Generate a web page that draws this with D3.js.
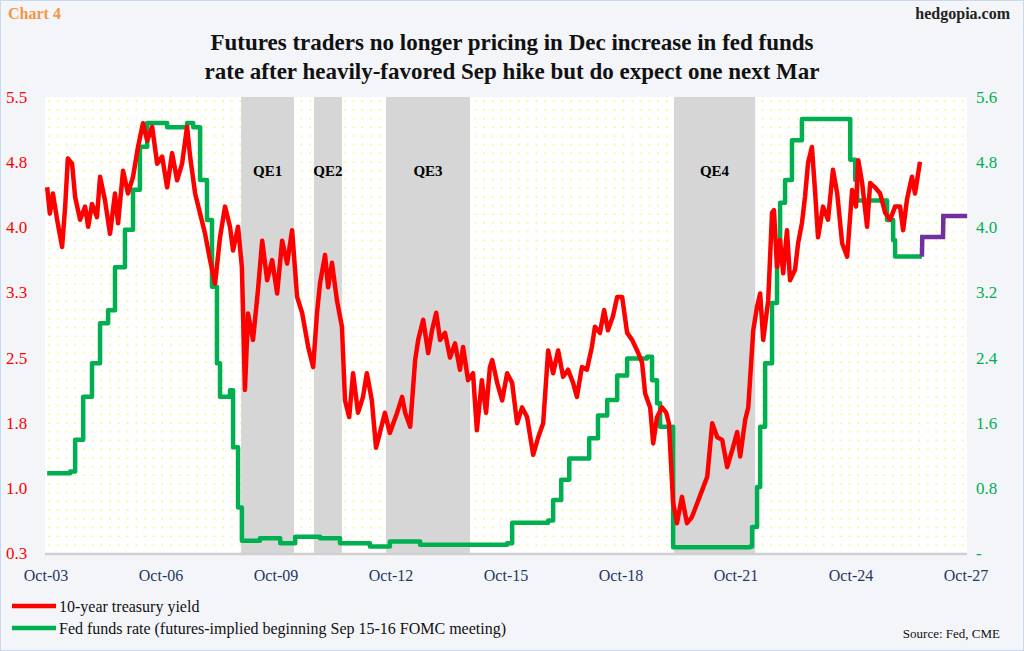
<!DOCTYPE html>
<html><head><meta charset="utf-8">
<script src="https://cdn.jsdelivr.net/npm/d3@7"></script>
<style>body{margin:0;background:#fff}svg{display:block;font-family:"Liberation Serif",serif}</style>
</head><body><div id="chart"></div>
<script>
// 10-year treasury yield, [decimal year, %]
let yield10 = [[2003.78,4.47],[2003.85,4.17],[2003.93,4.40],[2004.04,4.10],[2004.17,3.79],[2004.25,4.25],[2004.32,4.80],[2004.43,4.74],[2004.51,4.36],[2004.64,4.10],[2004.77,4.25],[2004.85,4.02],[2004.95,4.28],[2005.08,4.13],[2005.16,4.59],[2005.29,4.32],[2005.42,3.94],[2005.55,4.40],[2005.63,4.06],[2005.76,4.66],[2005.89,4.40],[2006.02,4.59],[2006.15,4.93],[2006.28,5.20],[2006.39,5.00],[2006.52,5.16],[2006.65,4.74],[2006.78,4.82],[2006.91,4.47],[2007.04,4.86],[2007.17,4.55],[2007.30,4.74],[2007.43,5.16],[2007.51,4.82],[2007.64,4.40],[2007.77,4.17],[2007.90,3.94],[2008.03,3.64],[2008.16,3.37],[2008.29,3.90],[2008.42,4.25],[2008.55,4.02],[2008.63,3.75],[2008.76,4.02],[2008.86,3.56],[2008.94,2.16],[2009.02,3.03],[2009.15,2.73],[2009.28,3.30],[2009.39,3.86],[2009.52,3.41],[2009.65,3.64],[2009.78,3.26],[2009.91,3.86],[2010.04,3.60],[2010.17,3.98],[2010.30,3.22],[2010.43,3.04],[2010.59,2.65],[2010.72,2.42],[2010.82,3.04],[2010.90,3.38],[2011.03,3.70],[2011.11,3.33],[2011.21,3.61],[2011.34,3.18],[2011.47,2.88],[2011.55,2.04],[2011.66,1.85],[2011.76,2.35],[2011.89,1.90],[2012.02,2.08],[2012.12,2.35],[2012.25,2.04],[2012.36,1.50],[2012.46,1.67],[2012.59,1.90],[2012.72,1.67],[2012.91,1.90],[2013.04,2.08],[2013.12,1.90],[2013.25,1.74],[2013.38,2.50],[2013.46,2.73],[2013.59,2.96],[2013.72,2.58],[2013.82,2.84],[2013.93,3.04],[2014.03,2.73],[2014.16,2.81],[2014.29,2.53],[2014.42,2.69],[2014.55,2.39],[2014.63,2.65],[2014.76,2.27],[2014.89,2.35],[2014.99,1.70],[2015.12,2.27],[2015.23,1.90],[2015.33,2.42],[2015.39,2.50],[2015.52,2.24],[2015.65,2.04],[2015.78,2.35],[2015.91,2.24],[2016.04,1.78],[2016.17,1.96],[2016.30,1.85],[2016.46,1.42],[2016.59,1.62],[2016.72,1.78],[2016.85,2.61],[2016.98,2.35],[2017.11,2.61],[2017.24,2.31],[2017.37,2.39],[2017.50,2.24],[2017.60,2.08],[2017.73,2.42],[2017.86,2.39],[2017.99,2.65],[2018.07,2.88],[2018.20,2.81],[2018.31,3.07],[2018.41,2.84],[2018.54,3.00],[2018.65,3.22],[2018.78,3.22],[2018.91,2.81],[2019.04,2.73],[2019.17,2.61],[2019.30,2.47],[2019.38,2.12],[2019.51,1.96],[2019.59,1.55],[2019.69,1.85],[2019.82,1.96],[2019.93,1.90],[2020.00,1.78],[2020.11,0.87],[2020.21,0.64],[2020.34,0.94],[2020.47,0.64],[2020.60,0.71],[2020.74,0.87],[2020.87,1.02],[2021.00,1.17],[2021.13,1.78],[2021.26,1.62],[2021.39,1.59],[2021.52,1.28],[2021.65,1.47],[2021.78,1.68],[2021.86,1.40],[2021.99,1.82],[2022.07,1.96],[2022.20,2.84],[2022.30,3.11],[2022.38,3.26],[2022.46,2.73],[2022.59,3.18],[2022.69,4.18],[2022.74,4.21],[2022.82,3.56],[2022.90,3.87],[2022.98,3.49],[2023.08,3.98],[2023.16,3.41],[2023.29,3.53],[2023.37,3.83],[2023.47,4.06],[2023.55,4.36],[2023.63,4.75],[2023.73,4.93],[2023.81,4.44],[2023.89,3.90],[2024.02,4.25],[2024.15,4.10],[2024.28,4.67],[2024.39,4.40],[2024.52,3.83],[2024.65,3.68],[2024.78,4.44],[2024.88,4.25],[2024.94,4.78],[2025.04,4.52],[2025.17,4.02],[2025.25,4.52],[2025.38,4.47],[2025.51,4.40],[2025.64,4.18],[2025.77,4.10],[2025.90,4.25],[2026.03,4.25],[2026.11,3.98],[2026.21,4.33],[2026.34,4.59],[2026.42,4.40],[2026.55,4.76]];

// fed funds rate, [decimal year, %]
let fedFunds = [[2003.78,0.98],[2004.38,1.00],[2004.51,1.39],[2004.72,1.92],[2004.95,2.33],[2005.16,2.82],[2005.37,2.98],[2005.55,3.51],[2005.81,3.97],[2006.02,4.46],[2006.20,4.99],[2006.39,5.28],[2006.91,5.23],[2007.43,5.28],[2007.59,5.23],[2007.77,4.58],[2007.95,4.09],[2008.08,3.27],[2008.21,2.33],[2008.29,1.92],[2008.55,2.00],[2008.63,1.30],[2008.76,0.56],[2008.86,0.15],[2009.33,0.18],[2009.86,0.12],[2010.25,0.20],[2010.90,0.18],[2011.42,0.12],[2012.20,0.08],[2012.72,0.14],[2013.51,0.10],[2014.55,0.10],[2015.78,0.12],[2015.91,0.37],[2016.85,0.40],[2016.98,0.65],[2017.19,0.90],[2017.40,1.16],[2017.92,1.41],[2018.15,1.69],[2018.39,1.88],[2018.65,2.18],[2018.91,2.39],[2019.43,2.41],[2019.56,2.12],[2019.69,1.84],[2019.77,1.55],[2020.06,1.55],[2020.11,0.07],[2022.12,0.08],[2022.17,0.32],[2022.30,0.81],[2022.38,1.55],[2022.51,2.33],[2022.69,3.07],[2022.82,3.81],[2022.90,4.30],[2023.03,4.58],[2023.21,5.07],[2023.47,5.33],[2024.65,5.33],[2024.73,4.83],[2024.86,4.58],[2024.91,4.33],[2025.59,4.33],[2025.69,4.09],[2025.85,3.84],[2025.90,3.64],[2026.60,3.64]];

// futures-implied path
let implied = [[2026.60,3.64],[2026.61,3.88],[2027.15,3.88],[2027.16,4.14],[2027.78,4.14]];

let qe = [
    {name: 'QE1', start: 2008.84, end: 2010.22},
    {name: 'QE2', start: 2010.74, end: 2011.47},
    {name: 'QE3', start: 2012.62, end: 2014.81},
    {name: 'QE4', start: 2020.13, end: 2022.25}
];

let xTickYears = [2003.75, 2006.75, 2009.75, 2012.75, 2015.75, 2018.75, 2021.75, 2024.75, 2027.75];
let xTickLabels = ['Oct-03', 'Oct-06', 'Oct-09', 'Oct-12', 'Oct-15', 'Oct-18', 'Oct-21', 'Oct-24', 'Oct-27'];
let leftTicks = [0.3, 1.043, 1.786, 2.529, 3.271, 4.014, 4.757, 5.5];
let rightTicks = [0, 0.8, 1.6, 2.4, 3.2, 4.0, 4.8, 5.6];

let W = 1024, H = 651;
let m = {left: 45, right: 57, top: 97, bottom: 98};

let svg = d3.select('#chart').append('svg').attr('width', W).attr('height', H);

let defs = svg.append('defs');
let pat = defs.append('pattern').attr('id', 'dots').attr('patternUnits', 'userSpaceOnUse')
    .attr('width', 8.7).attr('height', 8.7).attr('x', 48).attr('y', 100);
pat.append('rect').attr('width', 8.7).attr('height', 8.7).attr('fill', '#fff');
pat.append('circle').attr('cx', 1.2).attr('cy', 1.2).attr('r', 0.8).attr('fill', '#f4f030');

svg.append('rect').attr('x', 0.5).attr('y', 0.5).attr('width', W - 1).attr('height', H - 1)
    .attr('fill', '#f3f5f8').attr('stroke', '#c8d8ee');

let x = d3.scaleLinear().domain([2003.75, 2027.75]).range([46, 966]);
let yL = d3.scaleLinear().domain([0.3, 5.5]).range([H - m.bottom, m.top]);
let yR = d3.scaleLinear().domain([0, 5.6]).range([H - m.bottom, m.top]);

svg.append('rect').attr('x', m.left).attr('y', m.top)
    .attr('width', W - m.left - m.right).attr('height', H - m.top - m.bottom)
    .attr('fill', 'url(#dots)');

svg.selectAll('.qe').data(qe).join('rect')
    .attr('x', d => x(d.start)).attr('width', d => x(d.end) - x(d.start))
    .attr('y', m.top).attr('height', H - m.top - m.bottom)
    .attr('fill', '#d6d6d6');

svg.selectAll('.qel').data(qe).join('text')
    .attr('x', d => (x(d.start) + x(d.end)) / 2).attr('y', 176)
    .attr('text-anchor', 'middle').attr('font-weight', 'bold').attr('font-size', 15)
    .text(d => d.name);

svg.append('line').attr('x1', m.left).attr('x2', W - m.right)
    .attr('y1', H - m.bottom + 1).attr('y2', H - m.bottom + 1)
    .attr('stroke', '#d0d0d0').attr('stroke-width', 2.5);

let line = (ys, curve) => d3.line().curve(curve).x(d => x(d[0])).y(d => ys(d[1]));

svg.append('path').datum(fedFunds).attr('d', line(yR, d3.curveStepAfter))
    .attr('fill', 'none').attr('stroke', '#00b050').attr('stroke-width', 4.5).attr('stroke-linejoin', 'round');
svg.append('path').datum(implied).attr('d', line(yR, d3.curveLinear))
    .attr('fill', 'none').attr('stroke', '#7030a0').attr('stroke-width', 4.5);
svg.append('path').datum(yield10).attr('d', line(yL, d3.curveLinear))
    .attr('fill', 'none').attr('stroke', '#ff0000').attr('stroke-width', 4.5).attr('stroke-linejoin', 'round');

// axes
svg.append('g').selectAll('text').data(leftTicks).join('text')
    .attr('x', 6).attr('y', d => yL(d) + 6)
    .attr('font-size', 17).attr('fill', '#ff0000')
    .text(d => d3.format('.1f')(d));

svg.append('g').selectAll('text').data(rightTicks).join('text')
    .attr('x', 976).attr('y', d => yR(d) + 6)
    .attr('font-size', 17).attr('fill', '#00b050')
    .text(d => d === 0 ? '-' : d3.format('.1f')(d));

svg.append('g').selectAll('text').data(xTickYears).join('text')
    .attr('x', d => x(d)).attr('y', 581)
    .attr('text-anchor', 'middle').attr('font-size', 16).attr('fill', '#1f3864')
    .text((d, i) => xTickLabels[i]);

// titles
svg.append('text').attr('x', 8).attr('y', 19).attr('font-size', 16).attr('font-weight', 'bold')
    .attr('fill', '#f79646').text('Chart 4');
svg.append('text').attr('x', 1010).attr('y', 19).attr('font-size', 16).attr('font-weight', 'bold')
    .attr('text-anchor', 'end').attr('fill', '#222').text('hedgopia.com');
svg.append('text').attr('x', 512).attr('y', 50).attr('font-size', 23).attr('font-weight', 'bold')
    .attr('text-anchor', 'middle').attr('fill', '#111')
    .text('Futures traders no longer pricing in Dec increase in fed funds');
svg.append('text').attr('x', 512).attr('y', 79).attr('font-size', 23).attr('font-weight', 'bold')
    .attr('text-anchor', 'middle').attr('fill', '#111')
    .text('rate after heavily-favored Sep hike but do expect one next Mar');

// legend
let legend = [['10-year treasury yield', '#ff0000'],
    ['Fed funds rate (futures-implied beginning Sep 15-16 FOMC meeting)', '#00b050']];
let lg = svg.append('g').selectAll('g').data(legend).join('g')
    .attr('transform', (d, i) => `translate(12,${606 + i * 22})`);
lg.append('line').attr('x1', 0).attr('x2', 44).attr('stroke', d => d[1]).attr('stroke-width', 4.5);
lg.append('text').attr('x', 47).attr('y', 6).attr('font-size', 16).attr('fill', '#111').text(d => d[0]);

svg.append('text').attr('x', 1000).attr('y', 638).attr('text-anchor', 'end')
    .attr('font-size', 13).attr('fill', '#111').text('Source: Fed, CME');
</script></body></html>
